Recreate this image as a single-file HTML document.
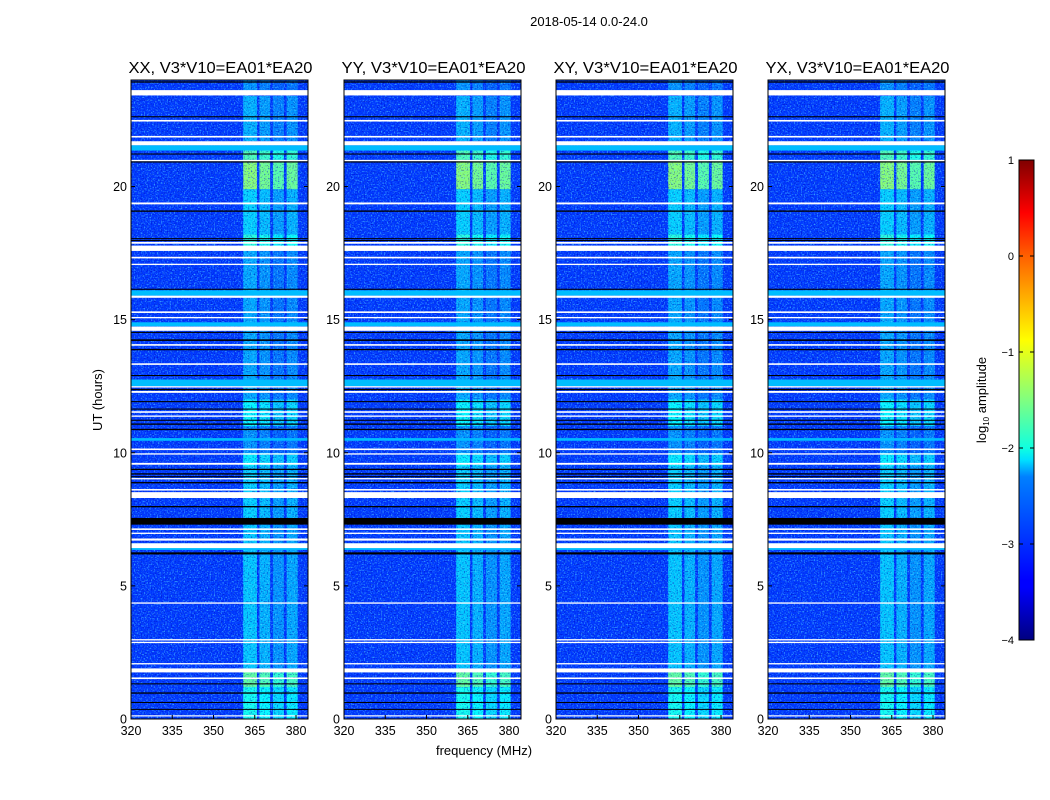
<!DOCTYPE html>
<html><head><meta charset="utf-8">
<style>
html,body{margin:0;padding:0;background:#fff;}
svg{display:block;font-family:"Liberation Sans",sans-serif;}
</style></head>
<body>
<svg id="fig" width="1050" height="800" viewBox="0 0 1050 800" xmlns="http://www.w3.org/2000/svg">
<defs>
<filter id="noiseLight" x="0" y="0" width="1" height="1">
<feTurbulence type="fractalNoise" baseFrequency="0.7" numOctaves="1" seed="3"/>
<feColorMatrix type="matrix" values="0 0 0 0 0.1  0 0 0 0 0.75  0 0 0 0 1  3.2 0 0 0 -1.6"/>
</filter>
<filter id="noiseDark" x="0" y="0" width="1" height="1">
<feTurbulence type="fractalNoise" baseFrequency="0.7" numOctaves="1" seed="11"/>
<feColorMatrix type="matrix" values="0 0 0 0 0  0 0 0 0 0  0 0 0 0 0.45  -3.2 0 0 0 1.5"/>
</filter>
<linearGradient id="jetgrad" x1="0" y1="1" x2="0" y2="0">
<stop offset="0" stop-color="#000080"/><stop offset="0.11" stop-color="#0000ff"/>
<stop offset="0.125" stop-color="#0000ff"/><stop offset="0.34" stop-color="#0080ff"/>
<stop offset="0.375" stop-color="#00e0ff"/><stop offset="0.4" stop-color="#10ffe0"/>
<stop offset="0.5" stop-color="#80ff80"/><stop offset="0.625" stop-color="#ffff00"/>
<stop offset="0.8" stop-color="#ff6000"/><stop offset="0.89" stop-color="#ff0000"/>
<stop offset="1" stop-color="#800000"/>
</linearGradient>
</defs>
<text x="589" y="26" font-size="13" text-anchor="middle">2018-05-14 0.0-24.0</text>
<text x="484" y="755" font-size="13" text-anchor="middle">frequency (MHz)</text>
<text transform="translate(102,400) rotate(-90)" font-size="13" text-anchor="middle">UT (hours)</text>
<g id="panels"></g>
<g id="cbar"></g>
</svg>
<script>
// ---- data ----
const panelTitles = ["XX, V3*V10=EA01*EA20","YY, V3*V10=EA01*EA20","XY, V3*V10=EA01*EA20","YX, V3*V10=EA01*EA20"];
const xTicks = [320,335,350,365,380];
const yTicks = [0,5,10,15,20];
const cbTicks = [1,0,-1,-2,-3,-4];
const backgroundLevel = -3.1;
const subBands = [[360.8,365.8],[366.7,370.6],[371.6,375.6],[376.6,380.6]];
const subBandOffset = [0.15,0.05,-0.1,0.0];
const bandSegments = [[0,1.2,-2.2],[1.2,1.9,-1.8],[1.9,6.2,-2.55],[6.2,7.3,-2.55],[7.5,9.5,-2.5],[9.5,10,-2.35],[10,11,-2.8],[11,12,-2.3],[12,17.7,-2.7],[17.7,18.2,-2.1],[18.2,19.9,-2.5],[19.9,21,-1.6],[21,21.5,-1.9],[21.7,23.4,-2.65],[23.6,24,-2.8]];
const cyanRows = [[15.9,16.1],[14.75,14.9],[12.5,12.75],[6.35,6.6],[10.45,10.55],[21.35,21.55]];
const whiteRows = [[23.42,23.62],[22.44,22.5],[21.84,21.9],[21.55,21.7],[20.95,21.0],[19.33,19.4],[17.85,17.92],[17.58,17.78],[17.3,17.36],[17.05,17.1],[15.82,15.9],[15.25,15.31],[15.05,15.1],[14.58,14.74],[14.02,14.08],[13.3,13.36],[12.45,12.5],[12.25,12.32],[11.5,11.56],[11.35,11.4],[10.1,10.16],[9.93,9.98],[9.55,9.62],[9.0,9.05],[8.58,8.64],[8.3,8.52],[7.1,7.16],[6.95,7.0],[6.7,6.78],[6.42,6.6],[4.33,4.38],[2.95,3.0],[2.85,2.9],[2.05,2.1],[1.75,1.9],[1.5,1.56],[0.1,0.14]];
const blackRows = [[23.9,23.95],[22.6,22.64],[21.2,21.24],[20.9,20.95],[19.05,19.1],[18.02,18.06],[17.95,17.99],[16.12,16.16],[14.5,14.54],[14.2,14.26],[13.85,13.9],[12.88,12.92],[12.35,12.4],[11.9,11.94],[11.62,11.66],[11.2,11.24],[11.05,11.1],[10.85,10.9],[9.35,9.4],[9.18,9.23],[9.08,9.12],[8.85,8.9],[7.95,8.0],[7.3,7.55],[6.18,6.26],[1.3,1.34],[0.95,1.0],[0.6,0.64],[0.35,0.38]];
// ---- layout ----
const panelLeft = [131,344,556,768];
const pw = 177, pTop = 80, pBottom = 719;
const fMin = 320, pxPerMHz = 2.75;
const hMax = 24;
const NS = "http://www.w3.org/2000/svg";
function jet(v){
  let x = (v+4)/5; x = Math.max(0,Math.min(1,x));
  const c = t => Math.round(255*Math.max(0,Math.min(1,1.5-Math.abs(t))));
  return `rgb(${c(4*x-3)},${c(4*x-2)},${c(4*x-1)})`;
}
function mk(tag, attrs, parent){
  const e = document.createElementNS(NS, tag);
  for (const k in attrs) e.setAttribute(k, attrs[k]);
  parent.appendChild(e); return e;
}
const yOf = h => pBottom - h*(pBottom-pTop)/hMax;
const panels = document.getElementById('panels');
panelTitles.forEach((title, pi) => {
  const L = panelLeft[pi];
  const xOf = f => L + (f - fMin)*pxPerMHz;
  const g = mk('g', {}, panels);
  
  
  const bg = mk('rect', {x:L, y:pTop, width:pw, height:pBottom-pTop, fill:jet(backgroundLevel)}, g);
  
  
  bandSegments.forEach(s => {
    subBands.forEach((b, bi) => {
      const r = mk('rect', {x:xOf(b[0]), y:yOf(s[1]), width:xOf(b[1])-xOf(b[0]), height:yOf(s[0])-yOf(s[1]), fill:jet(s[2]+subBandOffset[bi])}, g);
      
      
    });
  });
  const nz = mk('rect', {x:L, y:pTop, width:pw, height:pBottom-pTop, fill:'#fff', filter:'url(#noiseLight)', opacity:0.7}, g);
  
  
  const nd = mk('rect', {x:L, y:pTop, width:pw, height:pBottom-pTop, fill:'#fff', filter:'url(#noiseDark)', opacity:0.7}, g);
  
  
  cyanRows.forEach(r => {
    const e = mk('rect', {x:L, y:yOf(r[1]), width:pw, height:yOf(r[0])-yOf(r[1]), fill:jet(-2.45)}, g);
    
    
  });
  blackRows.forEach(r => {
    const e = mk('rect', {x:L, y:yOf(r[1]), width:pw, height:Math.max(1,yOf(r[0])-yOf(r[1])), fill:'#000'}, g);
    
    
  });
  whiteRows.forEach(r => {
    const e = mk('rect', {x:L, y:yOf(r[1]), width:pw, height:Math.max(1.2,yOf(r[0])-yOf(r[1])), fill:'#fff'}, g);
    
    
  });
  const fr = mk('rect', {x:L, y:pTop, width:pw, height:pBottom-pTop, fill:'none', stroke:'#000', 'stroke-width':1}, g);
  
  
  const tt = mk('text', {x:L+pw/2+1, y:pTop-7, 'font-size':16, 'text-anchor':'middle', textLength:184, lengthAdjust:'spacingAndGlyphs'}, g);
  tt.textContent = title;
  
  
  xTicks.forEach(t => {
    const x = xOf(t);
    mk('line', {x1:x, x2:x, y1:pBottom, y2:pBottom-4, stroke:'#000'}, g);
    const lb = mk('text', {x:x, y:pBottom+16, 'font-size':12.5, 'text-anchor':'middle'}, g);
    lb.textContent = t;
    
    
  });
  yTicks.forEach(t => {
    const y = yOf(t);
    mk('line', {x1:L, x2:L+4, y1:y, y2:y, stroke:'#000'}, g);
    mk('line', {x1:L+pw, x2:L+pw-4, y1:y, y2:y, stroke:'#000'}, g);
    const lb = mk('text', {x:L-4, y:y+4.5, 'font-size':12.5, 'text-anchor':'end'}, g);
    lb.textContent = t;
    
    
  });
});
// colorbar
const cb = document.getElementById('cbar');
const cbL = 1019, cbW = 15, cbTop = 160, cbBot = 640, cbMin = -4, cbMax = 1;
const cbY = v => cbBot - (v-cbMin)/(cbMax-cbMin)*(cbBot-cbTop);
mk('rect', {x:cbL, y:cbTop, width:cbW, height:cbBot-cbTop, fill:'url(#jetgrad)', stroke:'#000', 'stroke-width':1}, cb);
cbTicks.forEach(t => {
  const y = cbY(t);
  mk('line', {x1:cbL, x2:cbL+4, y1:y, y2:y, stroke:'#000'}, cb);
  mk('line', {x1:cbL+cbW, x2:cbL+cbW-4, y1:y, y2:y, stroke:'#000'}, cb);
  const lb = mk('text', {x:cbL-5, y:y+4, 'font-size':11, 'text-anchor':'end'}, cb);
  lb.textContent = t < 0 ? '\u2212' + (-t) : t;
  
  
});
const cl = mk('text', {transform:'translate(986,400) rotate(-90)', 'font-size':13, 'text-anchor':'middle'}, cb);
cl.innerHTML = 'log<tspan font-size="8" dy="3">10</tspan><tspan dy="-3"> amplitude</tspan>';


</script>
</body></html>
